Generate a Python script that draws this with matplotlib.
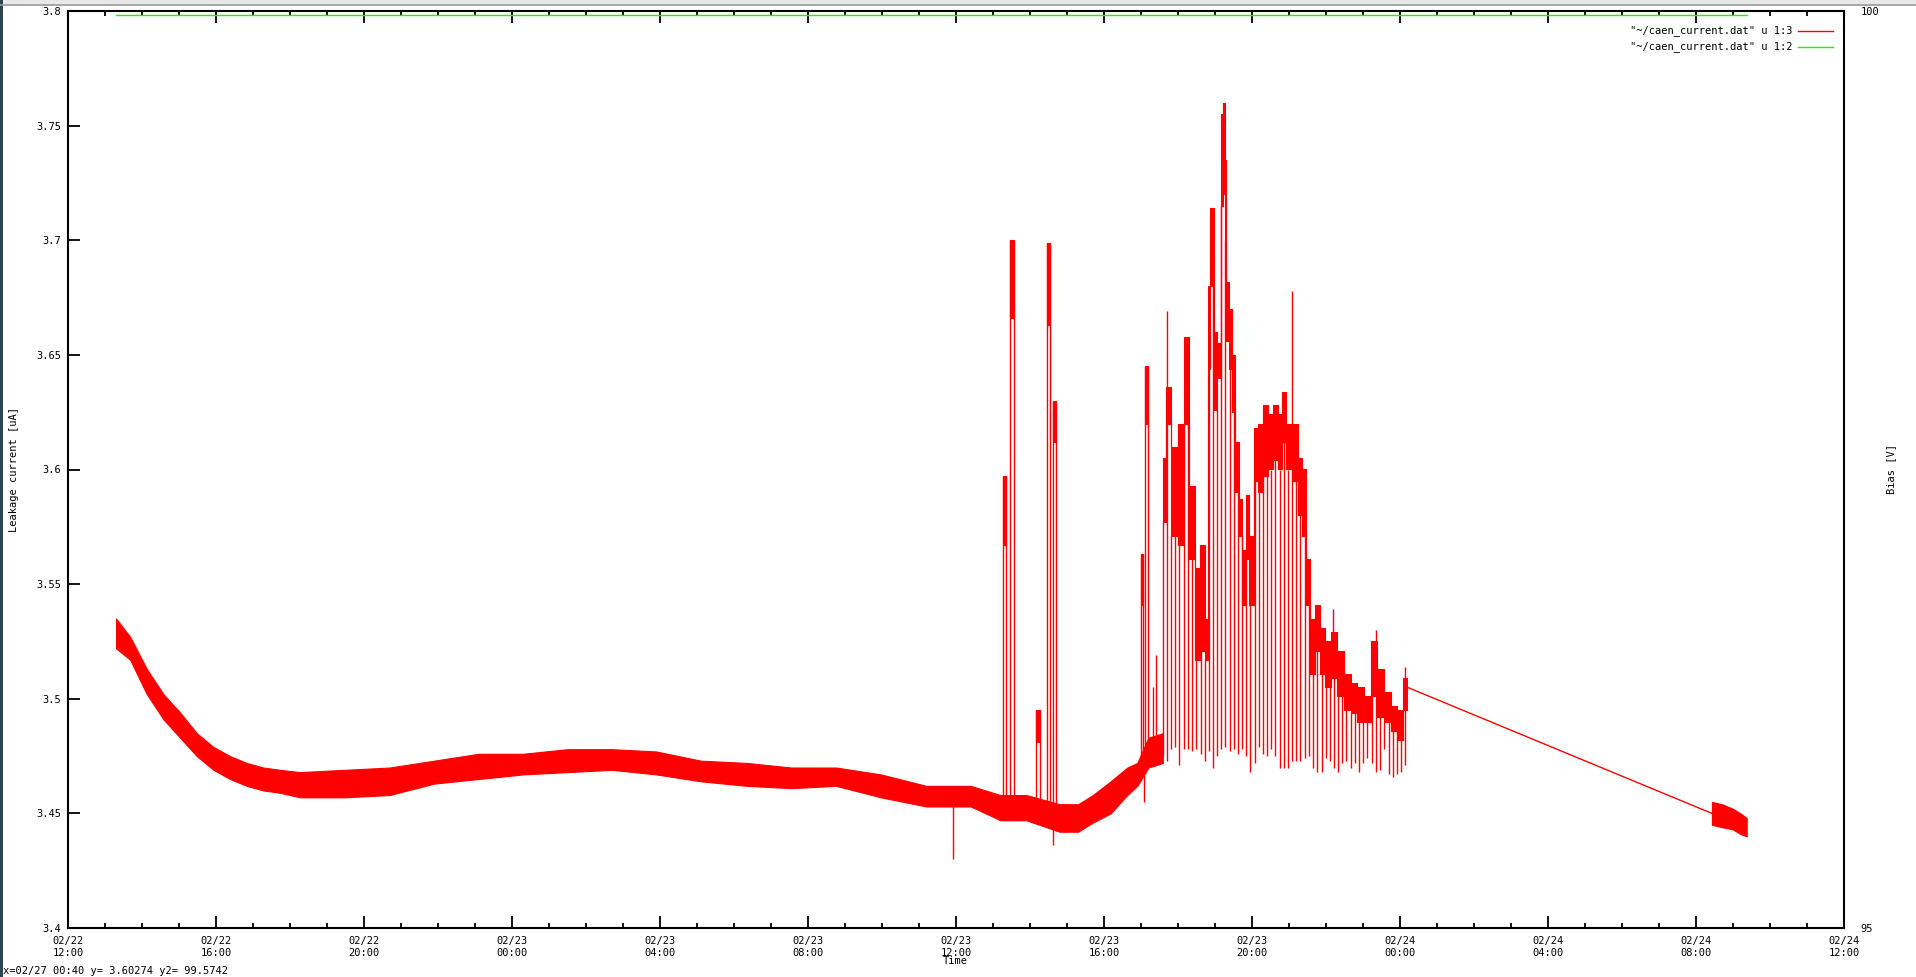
import matplotlib
matplotlib.use('Agg')
import matplotlib.pyplot as plt
import numpy as np
from matplotlib.patches import Rectangle
from matplotlib.ticker import MultipleLocator

# time axis: hours since 02/22 12:00
x_labels = ['02/22\n12:00', '02/22\n16:00', '02/22\n20:00', '02/23\n00:00',
            '02/23\n04:00', '02/23\n08:00', '02/23\n12:00', '02/23\n16:00',
            '02/23\n20:00', '02/24\n00:00', '02/24\n04:00', '02/24\n08:00',
            '02/24\n12:00']
x_ticks = [0, 4, 8, 12, 16, 20, 24, 28, 32, 36, 40, 44, 48]
y_ticks = [3.4, 3.45, 3.5, 3.55, 3.6, 3.65, 3.7, 3.75, 3.8]
y_ticklabels = ['3.4', '3.45', '3.5', '3.55', '3.6', '3.65', '3.7', '3.75', '3.8']

# leakage current, quiet part: noise band (time, lower edge, upper edge)
band_t = [1.30, 1.68, 2.13, 2.58, 3.03, 3.48, 3.93, 4.38, 4.83, 5.28, 5.73,
          6.27, 7.48, 8.69, 9.90, 11.1, 12.3, 13.5, 14.7, 15.9, 17.1, 18.35,
          19.55, 20.76, 21.97, 23.2, 24.4, 25.2, 25.9, 26.8, 27.3, 27.7, 28.18,
          28.63, 28.9, 29.2, 29.4, 29.59]
band_lo = [3.522, 3.517, 3.502, 3.491, 3.483, 3.475, 3.469, 3.465, 3.462, 3.460, 3.459,
           3.457, 3.457, 3.458, 3.463, 3.465, 3.467, 3.468, 3.469, 3.467, 3.464, 3.462,
           3.461, 3.462, 3.457, 3.453, 3.453, 3.447, 3.447, 3.442, 3.442, 3.446, 3.450,
           3.458, 3.462, 3.470, 3.471, 3.472]
band_hi = [3.535, 3.527, 3.513, 3.502, 3.494, 3.485, 3.479, 3.475, 3.472, 3.470, 3.469,
           3.468, 3.469, 3.470, 3.473, 3.476, 3.476, 3.478, 3.478, 3.477, 3.473, 3.472,
           3.470, 3.470, 3.467, 3.462, 3.462, 3.458, 3.458, 3.454, 3.454, 3.458, 3.464,
           3.470, 3.472, 3.483, 3.484, 3.485]

# unstable part: level held between drops (block start, lower edge, upper edge)
elev_t = [29.59, 29.68, 29.80, 30.00, 30.16, 30.30, 30.45, 30.60, 30.72, 30.80,
          30.86, 30.96, 31.06, 31.16, 31.21, 31.26, 31.30, 31.38, 31.46, 31.54,
          31.64, 31.74, 31.83, 31.93, 32.05, 32.17, 32.30, 32.44, 32.57, 32.70,
          32.82, 32.93, 33.09, 33.25, 33.36, 33.45, 33.56, 33.70, 33.83, 33.97,
          34.13, 34.31, 34.49, 34.67, 34.85, 35.03, 35.21, 35.39, 35.57, 35.75,
          35.93, 36.09, 36.20]
elev_lo = [3.577, 3.620, 3.571, 3.567, 3.620, 3.561, 3.517, 3.521, 3.517, 3.644,
           3.680, 3.626, 3.640, 3.715, 3.720, 3.700, 3.656, 3.644, 3.625, 3.590,
           3.571, 3.541, 3.561, 3.541, 3.595, 3.590, 3.597, 3.600, 3.604, 3.600,
           3.612, 3.600, 3.595, 3.580, 3.571, 3.541, 3.511, 3.521, 3.511, 3.505,
           3.509, 3.501, 3.495, 3.494, 3.490, 3.490, 3.501, 3.492, 3.490, 3.486,
           3.482, 3.495, 3.495]
elev_hi = [3.605, 3.636, 3.610, 3.620, 3.658, 3.593, 3.557, 3.567, 3.535, 3.680,
           3.714, 3.660, 3.655, 3.755, 3.760, 3.735, 3.682, 3.670, 3.650, 3.612,
           3.587, 3.565, 3.589, 3.571, 3.618, 3.620, 3.628, 3.624, 3.628, 3.624,
           3.634, 3.620, 3.620, 3.605, 3.600, 3.561, 3.535, 3.541, 3.531, 3.525,
           3.529, 3.521, 3.511, 3.507, 3.505, 3.501, 3.525, 3.513, 3.503, 3.497,
           3.495, 3.509, 3.509]

# short bursts before the unstable part (start, end, low, high)
burst_t0 = [25.26, 25.47, 26.15, 26.45, 26.61, 28.99, 29.10]
burst_t1 = [25.35, 25.56, 26.26, 26.54, 26.71, 29.06, 29.19]
burst_lo = [3.567, 3.666, 3.481, 3.663, 3.612, 3.541, 3.620]
burst_hi = [3.597, 3.700, 3.495, 3.699, 3.630, 3.563, 3.645]

# periodic drops during the unstable part
drop_t = [29.59, 29.71, 29.81, 29.92, 30.03, 30.16, 30.27, 30.39, 30.49, 30.61,
          30.72, 30.83, 30.94, 31.05, 31.16, 31.28, 31.40, 31.50, 31.62, 31.73,
          31.84, 31.95, 32.07, 32.19, 32.30, 32.41, 32.52, 32.63, 32.75, 32.86,
          32.97, 33.08, 33.20, 33.31, 33.42, 33.54, 33.65, 33.77, 33.88, 33.99,
          34.11, 34.22, 34.33, 34.44, 34.55, 34.67, 34.78, 34.89, 35.01, 35.12,
          35.24, 35.34, 35.46, 35.57, 35.69, 35.80, 35.92, 36.03, 36.14]
drop_lo = [3.475, 3.473, 3.478, 3.479, 3.471, 3.478, 3.478, 3.477, 3.478, 3.476,
           3.473, 3.477, 3.470, 3.475, 3.478, 3.479, 3.477, 3.478, 3.476, 3.478,
           3.475, 3.468, 3.472, 3.479, 3.476, 3.475, 3.478, 3.475, 3.470, 3.470,
           3.470, 3.473, 3.473, 3.473, 3.474, 3.475, 3.470, 3.468, 3.468, 3.474,
           3.473, 3.470, 3.468, 3.472, 3.473, 3.470, 3.472, 3.468, 3.472, 3.474,
           3.472, 3.468, 3.469, 3.478, 3.467, 3.466, 3.467, 3.468, 3.471]

# single spikes up (time, base, top) and down (time, bottom)
spike_t = [29.32, 29.41, 29.70, 33.07, 34.20, 35.34, 36.13]
spike_base = [3.480, 3.480, 3.630, 3.610, 3.520, 3.515, 3.500]
spike_top = [3.505, 3.519, 3.669, 3.678, 3.539, 3.530, 3.514]
dip_t = [23.93, 26.62, 29.08]
dip_bot = [3.430, 3.436, 3.455]

# last segment after the data gap
gap_t = [36.20, 44.43]
gap_v = [3.505, 3.450]
end_t = [44.43, 44.7, 45.0, 45.2, 45.37]
end_lo = [3.445, 3.444, 3.443, 3.441, 3.440]
end_hi = [3.455, 3.454, 3.452, 3.450, 3.448]

# bias voltage (right axis)
bias_t = [1.30, 45.37]
bias_v = [99.977, 99.977]

RED = '#ff0000'
GREEN = '#00ff00'
FONT = 'DejaVu Sans Mono'
FS = 7.5

W, H = 1916, 977
fig = plt.figure(figsize=(W / 100, H / 100), dpi=100)
fig.patch.set_facecolor('white')
ax = fig.add_axes([68 / W, 49 / H, (1844 - 68) / W, 917 / H])

lw = 1.0
ax.fill_between(band_t, band_lo, band_hi, color=RED, lw=0.8, zorder=3)
ax.fill_between(elev_t, elev_lo, elev_hi, step='post', color=RED, lw=0.8, zorder=3)

for t0, t1, lo, hi in zip(burst_t0, burst_t1, burst_lo, burst_hi):
    base = np.interp([t0, t1], band_t, band_lo)
    ax.vlines([t0, t1], base, [hi, hi], color=RED, lw=lw, zorder=3)
    ax.fill_between([t0, t1], [lo, lo], [hi, hi], color=RED, lw=0.8, zorder=3)

idx = np.searchsorted(elev_t, drop_t, side='right') - 1
drop_top = np.asarray(elev_lo)[np.clip(idx, 0, len(elev_t) - 1)]
ax.vlines(drop_t, drop_lo, drop_top, color=RED, lw=lw, zorder=3)
ax.vlines(spike_t, spike_base, spike_top, color=RED, lw=lw, zorder=3)
ax.vlines(dip_t, dip_bot, np.interp(dip_t, band_t, band_lo), color=RED, lw=lw, zorder=3)
ax.plot(gap_t, gap_v, color=RED, lw=lw, zorder=3)
ax.fill_between(end_t, end_lo, end_hi, color=RED, lw=0.8, zorder=3)

ax.set_xlim(0, 48)
ax.set_ylim(3.4, 3.8)
ax.set_xticks(x_ticks)
ax.set_xticklabels(x_labels, fontsize=FS, family=FONT, linespacing=1.25)
ax.xaxis.set_minor_locator(MultipleLocator(1))
ax.set_yticks(y_ticks)
ax.set_yticklabels(y_ticklabels, fontsize=FS, family=FONT)
ax.tick_params(which='major', direction='in', length=8.6, width=1.3,
               top=True, right=True, labelright=False)
ax.tick_params(axis='x', which='major', pad=6)
ax.tick_params(axis='y', which='major', pad=5)
ax.tick_params(which='minor', direction='in', length=3.6, width=1.3, top=True)
for sp in ax.spines.values():
    sp.set_linewidth(1.5)

ax2 = ax.twinx()
ax2.plot(bias_t, bias_v, color=GREEN, lw=lw, zorder=3)
ax2.set_ylim(95, 100)
ax2.set_yticks([95, 100])
ax2.set_yticklabels(['95', '100'], fontsize=FS, family=FONT)
ax2.tick_params(axis='y', length=0, pad=12)
for sp in ax2.spines.values():
    sp.set_visible(False)

fig.text(955 / W, 1 - 961 / H, 'Time', ha='center', va='center', fontsize=FS, family=FONT)
fig.text(14 / W, 1 - 469 / H, 'Leakage current [uA]', ha='center', va='center',
         rotation=90, fontsize=FS, family=FONT)
fig.text(1891 / W, 1 - 469 / H, 'Bias [V]', ha='center', va='center',
         rotation=90, fontsize=FS, family=FONT)

# key in the top right corner
keys = ['"~/caen_current.dat" u 1:3', '"~/caen_current.dat" u 1:2']
key_colors = [RED, GREEN]
for i, (k, c) in enumerate(zip(keys, key_colors)):
    yk = 1 - (31 + 16 * i) / H
    fig.text(1792 / W, yk, k, ha='right', va='center', fontsize=FS, family=FONT)
    fig.add_artist(plt.Line2D([1798 / W, 1833 / W], [yk, yk], color=c, lw=lw,
                              transform=fig.transFigure))

# window frame and status line
fig.add_artist(Rectangle((0, 1 - 5 / H), 1, 5 / H, transform=fig.transFigure,
                         facecolor='#e8e8e8', edgecolor='none'))
fig.add_artist(plt.Line2D([0, 1], [1 - 5 / H, 1 - 5 / H], color='#9a9a9a', lw=1.2,
                          transform=fig.transFigure))
fig.add_artist(Rectangle((0, 0), 2.5 / W, 1, transform=fig.transFigure,
                         facecolor='#2c4550', edgecolor='none'))
fig.text(3 / W, 1.5 / H, 'x=02/27 00:40 y= 3.60274 y2= 99.5742', ha='left', va='bottom',
         fontsize=FS, family=FONT)

fig.savefig('out.png', dpi=100)
